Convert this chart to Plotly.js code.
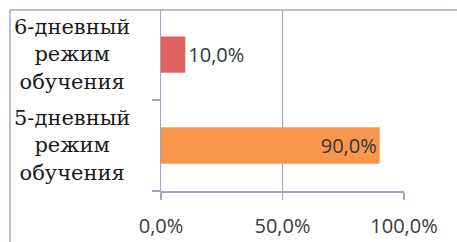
<!DOCTYPE html>
<html>
<head>
<meta charset="utf-8">
<script src="https://cdn.plot.ly/plotly-3.0.1.min.js"></script>
<style>html,body{margin:0;padding:0;background:#fff;}#chart{width:457px;height:242px;}</style>
</head>
<body>
<div id="chart"></div>
<script>
// Data (bottom to top)
const categories = ["5-дневный режим обучения", "6-дневный режим обучения"];
const categoryLabels = ["5-дневный<br>режим<br>обучения", "6-дневный<br>режим<br>обучения"];
const values = [0.90, 0.10];
const barColors = ["#f9964b", "#de6360"];
const labelPositions = ["inside", "outside"];
const xTickValues = [0, 0.5, 1];

const axisColor = "#a3a3c4";

const trace = {
  type: "bar",
  orientation: "h",
  y: categories,
  x: values,
  width: 0.4,
  marker: {color: barColors, line: {width: 0}},
  texttemplate: "%{x:.1%}",
  textposition: labelPositions,
  insidetextanchor: "end",
  textfont: {family: "Open Sans", size: 20, color: "#2e3a3a"},
  cliponaxis: false,
  hoverinfo: "none"
};

const annotations = categories.map((c, i) => ({
  xref: "paper", yref: "y",
  x: -0.366, y: c,
  text: categoryLabels[i],
  showarrow: false,
  align: "center",
  xanchor: "center", yanchor: "middle",
  font: {family: "DejaVu Serif", size: 21, color: "#1a1a1a"}
}));

const layout = {
  width: 457, height: 242,
  margin: {l: 161, r: 53, t: 10, b: 51, pad: 0},
  paper_bgcolor: "#ffffff",
  plot_bgcolor: "#ffffff",
  separators: ", ",
  showlegend: false,
  xaxis: {
    range: [0, 1],
    tickmode: "array",
    tickvals: xTickValues,
    tickformat: ".1%",
    showgrid: true, gridcolor: axisColor, gridwidth: 1.2,
    zeroline: false,
    showline: true, linecolor: axisColor, linewidth: 1.5,
    ticks: "outside", ticklen: 7, tickcolor: axisColor, tickwidth: 1.5,
    ticklabelstandoff: 9,
    tickfont: {family: "Open Sans", size: 20, color: "#3a3a3a"},
    fixedrange: true
  },
  yaxis: {
    type: "category",
    categoryorder: "array",
    categoryarray: categories,
    range: [-0.5, 1.49],
    showticklabels: false,
    showgrid: false,
    zeroline: false,
    showline: true, linecolor: axisColor, linewidth: 1.5,
    ticks: "outside", tickson: "boundaries", ticklen: 8, tickcolor: axisColor, tickwidth: 1.5,
    fixedrange: true
  },
  annotations: annotations,
  shapes: [{
    type: "rect", xref: "paper", yref: "paper",
    x0: -0.6214, x1: 2, y0: -1, y1: 1,
    line: {color: "#a8a8c0", width: 1.5},
    fillcolor: "rgba(0,0,0,0)",
    layer: "above"
  }]
};

Plotly.newPlot("chart", [trace], layout, {staticPlot: true, displayModeBar: false});
</script>
</body>
</html>
